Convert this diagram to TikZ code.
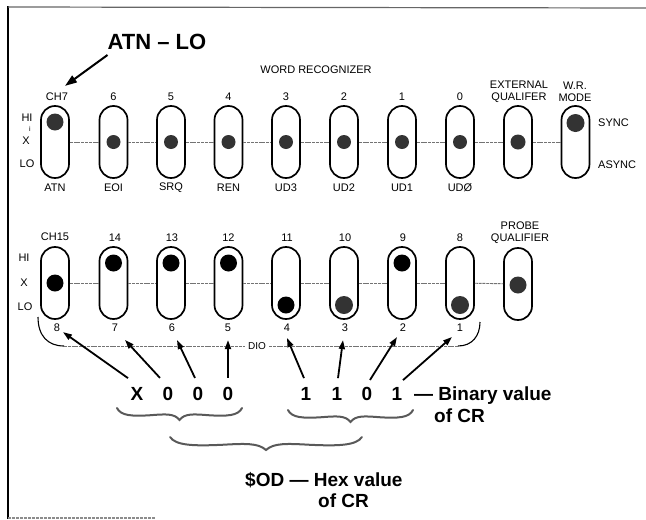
\documentclass[tikz,border=0pt]{standalone}
\usepackage{fontspec}
\setmainfont{Liberation Sans}
\usetikzlibrary{arrows.meta}
\newcommand\wavebrace[2]{%
  \draw[brc] (0,0) .. controls (0.03*#1,0.65*#2) and (0.12*#1,0.7*#2) .. (0.27*#1,0.6*#2)
    .. controls (0.39*#1,0.5*#2) and (0.46*#1,0.45*#2) .. (0.5*#1,#2)
    .. controls (0.54*#1,0.45*#2) and (0.61*#1,0.5*#2) .. (0.73*#1,0.6*#2)
    .. controls (0.88*#1,0.7*#2) and (0.97*#1,0.65*#2) .. (#1,0);}
\begin{document}
\begin{tikzpicture}[x=1pt,y=-1pt,
  slotbox/.style={draw, line width=1.7pt, rounded corners=13.9pt, minimum width=28pt, minimum height=72pt, inner sep=0pt},
  dotg/.style={circle, fill=black!80, inner sep=0pt, minimum size=14pt},
  dotbig/.style={circle, fill=black!80, inner sep=0pt, minimum size=17pt},
  dotb/.style={circle, fill=black, inner sep=0pt, minimum size=17pt},
  lbl/.style={font=\fontsize{11}{12}\selectfont, inner sep=0pt},
  tiny/.style={font=\fontsize{7}{8}\selectfont, inner sep=0pt},
  bigd/.style={font=\bfseries\fontsize{19}{22}\selectfont, inner sep=0pt},
  bigt/.style={font=\bfseries\fontsize{22}{24}\selectfont, inner sep=0pt},
  link/.style={black!55, line width=0.9pt, dash pattern=on 3pt off 0.8pt},
  curv/.style={line width=1.1pt},
  arr/.style={line width=1.8pt, -{Triangle[length=9pt,width=6pt]}},
  bigarr/.style={line width=2pt, -{Triangle[length=12pt,width=8pt]}},
  brc/.style={black!65, line width=2pt, line cap=round}
]
\useasboundingbox (0,0) rectangle (646,520);

% frame
\draw[line width=2.4pt] (8,6) -- (8,519);
\draw[line width=1.2pt, black!60] (8,7) -- (646,8);
\draw[line width=1.2pt, black!45, dash pattern=on 3pt off 1pt] (8,518) -- (155,518);

% title
\node[bigt] (atn) at (157,42) {ATN – LO};
\node[lbl] (wrt) at (316,70) {WORD RECOGNIZER};

% top row slots
\node[slotbox] (s7) at (55,142) {};
\node[slotbox] (s6) at (113.5,142) {};
\node[slotbox] (s5) at (171,142) {};
\node[slotbox] (s4) at (228.5,142) {};
\node[slotbox] (s3) at (286,142) {};
\node[slotbox] (s2) at (344,142) {};
\node[slotbox] (s1) at (402,142) {};
\node[slotbox] (s0) at (460,142) {};
\node[slotbox] (sext) at (518,142) {};
\node[slotbox] (swr) at (575.5,142) {};

\foreach \a/\b in {s7/s6,s6/s5,s5/s4,s4/s3,s3/s2,s2/s1,s1/s0,s0/sext,sext/swr}
  \draw[link] (\a) -- (\b);

% top row dots
\node[dotbig] (p7) at (55,122) {};
\node[dotg] (p6) at (113.5,142) {};
\node[dotg] (p5) at (171,142) {};
\node[dotg] (p4) at (228.5,142) {};
\node[dotg] (p3) at (286,142) {};
\node[dotg] (p2) at (344,142) {};
\node[dotg] (p1) at (402,142) {};
\node[dotg] (p0) at (460,142) {};
\node[dotg, minimum size=15pt] (pext) at (518,142) {};
\node[dotbig, minimum size=18pt] (pwr) at (575.5,123) {};

% top row labels
\node[lbl] (c7) at (57,97) {CH7};
\node[lbl] (c6) at (113.5,97) {6};
\node[lbl] (c5) at (171,97) {5};
\node[lbl] (c4) at (228.5,97) {4};
\node[lbl] (c3) at (286,97) {3};
\node[lbl] (c2) at (344,97) {2};
\node[lbl] (c1) at (402,97) {1};
\node[lbl] (c0) at (460,97) {0};
\node[lbl, align=center] (cext) at (519,92) {EXTERNAL\\QUALIFER};
\node[lbl, align=center] (cwr) at (575,92) {W.R.\\MODE};

\node[lbl] (bATN) at (55,188) {ATN};
\node[lbl] (bEOI) at (113.5,188) {EOI};
\node[lbl] (bSRQ) at (171,188) {SRQ};
\node[lbl] (bREN) at (228.5,188) {REN};
\node[lbl] (bUD3) at (286,188) {UD3};
\node[lbl] (bUD2) at (344,188) {UD2};
\node[lbl] (bUD1) at (402,188) {UD1};
\node[lbl] (bUD0) at (460,188) {UDØ};

\node[lbl] (hi1) at (27,118) {HI};
\node[tiny] (ii1) at (30,129) {i};
\node[lbl] (x1) at (26,141) {X};
\node[lbl] (lo1) at (27,164) {LO};
\node[lbl, anchor=west] (sync) at (598,123) {SYNC};
\node[lbl, anchor=west] (async) at (598,165) {ASYNC};

% bottom row slots
\node[slotbox] (s15) at (55,283) {};
\node[slotbox] (s14) at (113.5,283) {};
\node[slotbox] (s13) at (171,283) {};
\node[slotbox] (s12) at (228.5,283) {};
\node[slotbox] (s11) at (286,283) {};
\node[slotbox] (s10) at (344,283) {};
\node[slotbox] (s9) at (402,283) {};
\node[slotbox] (s8) at (460,283) {};
\node[slotbox] (sprb) at (518,284) {};

\foreach \a/\b in {s15/s14,s14/s13,s13/s12,s12/s11,s11/s10,s10/s9,s9/s8,s8/sprb}
  \draw[link] (\a) -- (\b);

% bottom row dots
\node[dotb] (q15) at (55,283) {};
\node[dotb] (q14) at (113.5,263) {};
\node[dotb] (q13) at (171,263) {};
\node[dotb] (q12) at (228.5,263) {};
\node[dotb] (q11) at (286,305) {};
\node[dotbig, minimum size=18pt] (q10) at (344,305) {};
\node[dotb] (q9) at (402,263) {};
\node[dotbig, minimum size=18pt] (q8) at (460,305) {};
\node[dotbig] (qprb) at (518,285) {};

% bottom row labels
\node[lbl] (c15) at (55,237) {CH15};
\node[lbl] (c14) at (115,238) {14};
\node[lbl] (c13) at (172,238) {13};
\node[lbl] (c12) at (228.5,238) {12};
\node[lbl] (c11) at (287,238) {11};
\node[lbl] (c10) at (345,238) {10};
\node[lbl] (c9) at (403,238) {9};
\node[lbl] (c8) at (460,238) {8};
\node[lbl, align=center] (cprb) at (520,233) {PROBE\\QUALIFIER};

\node[lbl] (hi2) at (24,258) {HI};
\node[lbl] (x2) at (24,283) {X};
\node[lbl] (lo2) at (25,307) {LO};

% DIO numbers
\node[lbl] (n8) at (57,328) {8};
\node[lbl] (n7) at (115,328) {7};
\node[lbl] (n6) at (172,328) {6};
\node[lbl] (n5) at (228,328) {5};
\node[lbl] (n4) at (287,328) {4};
\node[lbl] (n3) at (345,328) {3};
\node[lbl] (n2) at (403,328) {2};
\node[lbl] (n1) at (460,328) {1};

% DIO bracket
\coordinate (dl0) at (38,317);
\coordinate (dl1) at (64,346);
\coordinate (dr1) at (458,346);
\coordinate (dr0) at (480,322);
\node[font=\fontsize{10}{11}\selectfont, inner sep=3pt, fill=white] (dio) at (257,346) {DIO};
\draw[curv] (dl0) .. controls (38,336) and (48,346) .. (dl1);
\draw[link] (dl1) -- (dio) -- (dr1);
\draw[curv] (dr1) .. controls (472,346) and (480,336) .. (dr0);

% title arrow
\draw[bigarr] ([shift={(0,5)}]atn.south west) -- ([shift={(8,-7)}]c7.north);

% binary digits
\node[bigd, anchor=base] (dX) at (137,400) {X};
\node[bigd, anchor=base] (da) at (168,400) {0};
\node[bigd, anchor=base] (db) at (198,400) {0};
\node[bigd, anchor=base] (dc) at (228,400) {0};
\node[bigd, anchor=base] (dd) at (306,400) {1};
\node[bigd, anchor=base] (de) at (337,400) {1};
\node[bigd, anchor=base] (df) at (367,400) {0};
\node[bigd, anchor=base] (dg) at (397,400) {1};
\node[bigd, anchor=base west] (binv) at (414,400) {— Binary value};
\node[bigd, anchor=base west] (binc) at (434,422) {of CR};

\draw[arr] ([shift={(-9,-8.6)}]dX.north) -- ([shift={(6,0)}]n8.south);
\draw[arr] ([shift={(-8,-8.6)}]da.north) -- ([shift={(10,8)}]n7.south);
\draw[arr] ([shift={(-3,-8.6)}]db.north) -- ([shift={(5,8)}]n6.south);
\draw[arr] ([shift={(0,-8.6)}]dc.north) -- ([shift={(0,8)}]n5.south);
\draw[arr] ([shift={(-2,-8.6)}]dd.north) -- ([shift={(0,6)}]n4.south);
\draw[arr] ([shift={(1,-8.6)}]de.north) -- ([shift={(-2,8)}]n3.south);
\draw[arr] ([shift={(3,-6.6)}]df.north) -- ([shift={(-6,5)}]n2.south);
\draw[arr] ([shift={(6,-6.6)}]dg.north) -- ([shift={(-8,5)}]n1.south);

% braces
\begin{scope}[shift={(117,408)}] \wavebrace{125}{12} \end{scope}
\begin{scope}[shift={(288,410)}] \wavebrace{125}{12} \end{scope}
\begin{scope}[shift={(170,437)}] \wavebrace{192}{13} \end{scope}

% hex value
\node[bigd, anchor=base west] (hexv) at (245,486) {\$OD — Hex value};
\node[bigd, anchor=base west] (hexc) at (318,507) {of CR};
\end{tikzpicture}
\end{document}
